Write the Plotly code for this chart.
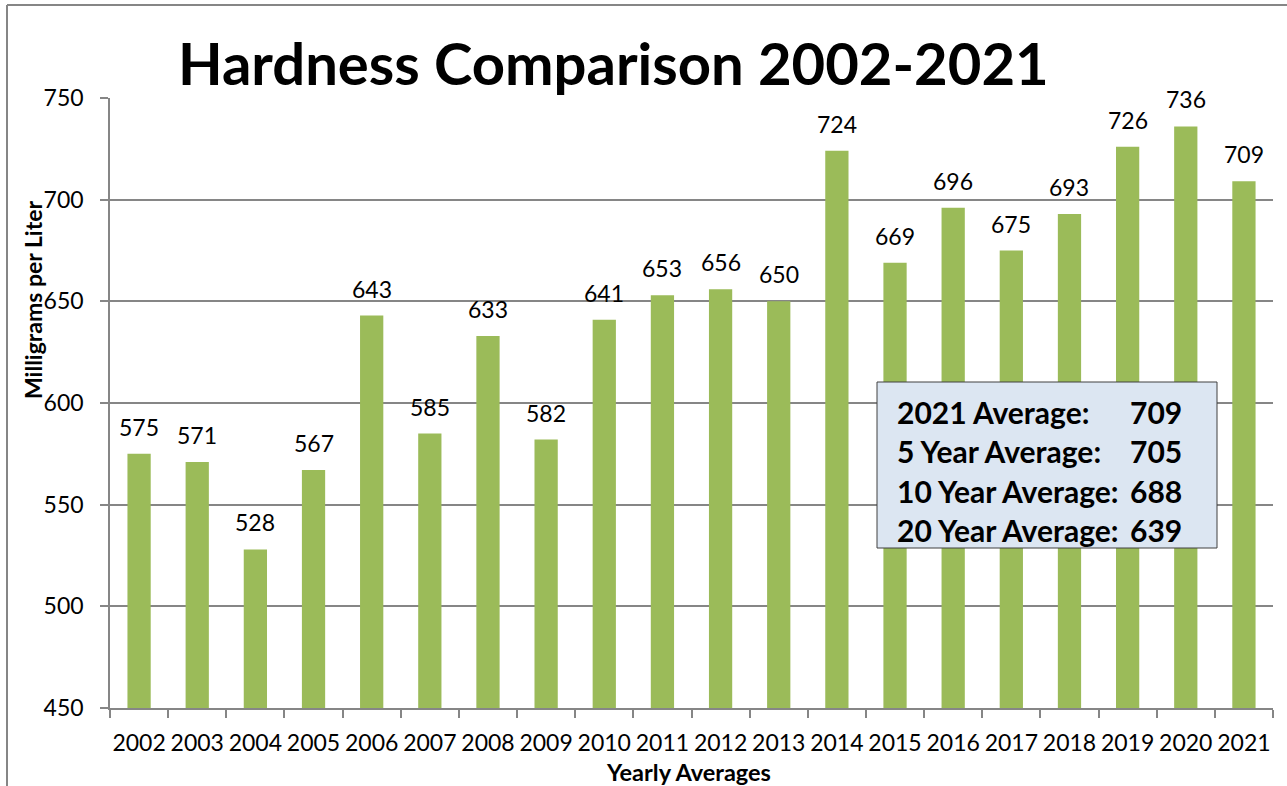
import plotly.graph_objects as go

years = [str(y) for y in range(2002, 2022)]
hardness = [575, 571, 528, 567, 643, 585, 633, 582, 641, 653, 656, 650,
            724, 669, 696, 675, 693, 726, 736, 709]
avg_labels = ["2021 Average:", "5 Year Average:", "10 Year Average:", "20 Year Average:"]
avg_values = [709, 705, 688, 639]

FONT = "Lato"
GRID = "#868686"
W, H = 1287, 786
L, R, T, B = 110, 14, 98, 78
pw, ph = W - L - R, H - T - B

def px(x):
    return (x - L) / pw

def py(y):
    return (H - B - y) / ph

fig = go.Figure()
fig.add_trace(go.Bar(x=years, y=hardness, marker=dict(color="#9BBB59", line=dict(width=0)),
                     width=0.4, hoverinfo="x+y"))

annotations = []
for i, v in enumerate(hardness):
    annotations.append(dict(x=i, y=v, xref="x", yref="y", text=str(v), showarrow=False,
                            xanchor="center", yanchor="bottom", yshift=11,
                            font=dict(family=FONT, size=23, color="black")))

# title
annotations.append(dict(x=px(176), y=py(62), xref="paper", yref="paper", xanchor="left", yanchor="middle",
                        text="<b>Hardness Comparison 2002-2021</b>", showarrow=False,
                        font=dict(family=FONT, size=58, color="black")))
# axis titles
annotations.append(dict(x=px(33), y=py(300), xref="paper", yref="paper", textangle=-90,
                        xanchor="center", yanchor="middle",
                        text="<b>Milligrams per Liter</b>", showarrow=False,
                        font=dict(family=FONT, size=23, color="black")))
annotations.append(dict(x=px(688), y=py(772), xref="paper", yref="paper",
                        xanchor="center", yanchor="middle",
                        text="<b>Yearly Averages</b>", showarrow=False,
                        font=dict(family=FONT, size=23.5, color="black")))

# averages box
box_x0, box_x1, box_y0, box_y1 = 877, 1217, 382, 548
line_ys = [412, 451, 491, 530]
for lab, val, ly in zip(avg_labels, avg_values, line_ys):
    annotations.append(dict(x=px(895), y=py(ly), xref="paper", yref="paper", xanchor="left", yanchor="middle",
                            text="<b>%s</b>" % lab, showarrow=False,
                            font=dict(family=FONT, size=30, color="black")))
    annotations.append(dict(x=px(1184), y=py(ly), xref="paper", yref="paper", xanchor="right", yanchor="middle",
                            text="<b>%d</b>" % val, showarrow=False,
                            font=dict(family=FONT, size=30, color="black")))

shapes = [
    dict(type="rect", xref="paper", yref="paper", x0=px(box_x0), x1=px(box_x1), y0=py(box_y1), y1=py(box_y0),
         fillcolor="#DCE6F2", line=dict(color="#404040", width=1), layer="above"),
    dict(type="line", xref="paper", yref="paper", x0=px(7), x1=px(7), y0=py(5), y1=py(800),
         line=dict(color=GRID, width=2)),
    dict(type="line", xref="paper", yref="paper", x0=px(7), x1=px(1300), y0=py(5), y1=py(5),
         line=dict(color=GRID, width=2)),
]

fig.update_layout(
    width=W, height=H, margin=dict(l=L, r=R, t=T, b=B, autoexpand=False),
    paper_bgcolor="white", plot_bgcolor="white",
    showlegend=False, bargap=0.6,
    annotations=annotations, shapes=shapes,
    font=dict(family=FONT, color="black"),
)
fig.update_xaxes(type="category", range=[-0.5, len(years) - 0.5], automargin=False,
                 showline=True, linecolor=GRID, linewidth=1.5,
                 ticks="outside", ticklen=8, tickcolor=GRID, tickwidth=1.5, tickson="boundaries",
                 tickangle=0, tickfont=dict(family=FONT, size=23, color="black"), ticklabelstandoff=14,
                 showgrid=False)
fig.update_yaxes(range=[450, 750], dtick=50, automargin=False, showline=True, linecolor=GRID, linewidth=1.5,
                 ticks="outside", ticklen=8, tickcolor=GRID, tickwidth=1.5,
                 showgrid=True, gridcolor=GRID, gridwidth=1.5,
                 tickfont=dict(family=FONT, size=23, color="black"), ticklabelstandoff=12,
                 zeroline=False)

fig.write_html("out.html", config={"displayModeBar": False},
               post_script="document.body.style.margin='0';document.body.style.overflow='hidden';")
